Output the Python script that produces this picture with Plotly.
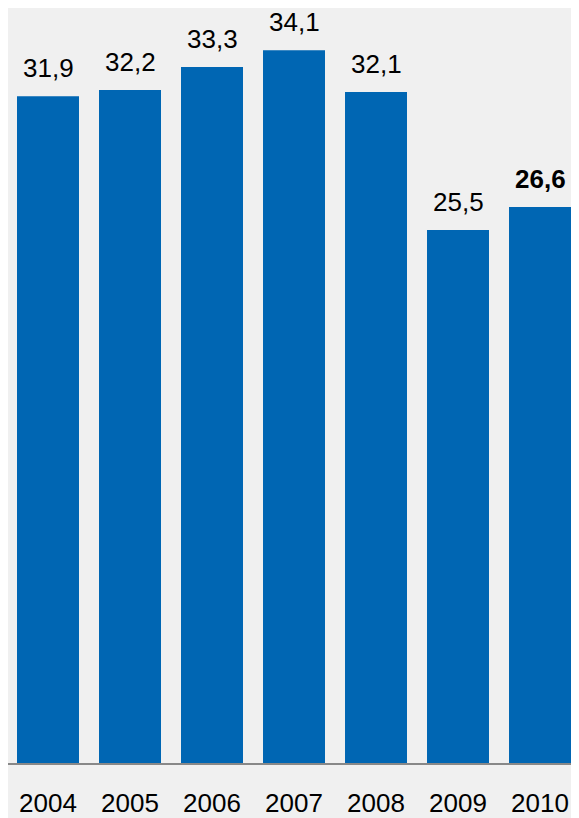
import plotly.graph_objects as go

years = ["2004", "2005", "2006", "2007", "2008", "2009", "2010"]
values = [31.9, 32.2, 33.3, 34.1, 32.1, 25.5, 26.6]
labels = ["31,9", "32,2", "33,3", "34,1", "32,1", "25,5", "<b>26,6</b>"]

FONT = "Liberation Sans, Arial, sans-serif"

fig = go.Figure()
fig.add_trace(go.Bar(x=years, y=values, marker=dict(color="#0066b3", line=dict(width=0)),
                     hoverinfo="skip"))

for i, (v, t) in enumerate(zip(values, labels)):
    fig.add_annotation(x=i, y=v, xref="x", yref="y", text=t, showarrow=False,
                       yanchor="bottom", yshift=12, borderpad=0,
                       font=dict(family=FONT, size=26, color="#000000"))

fig.update_layout(
    width=563, height=810,
    margin=dict(l=0, r=0, t=0, b=55, pad=0),
    paper_bgcolor="#f0f0f0", plot_bgcolor="#f0f0f0",
    bargap=0.244,
    showlegend=False,
    xaxis=dict(type="category", range=[-0.4878, 6.378], showline=True, linecolor="#888888", linewidth=2,
               showgrid=False, ticks="", ticklabelstandoff=16,
               tickfont=dict(family=FONT, size=26, color="#000000")),
    yaxis=dict(range=[0, 36.12], visible=False, showgrid=False, zeroline=False),
)

fig.write_html("out.html")
